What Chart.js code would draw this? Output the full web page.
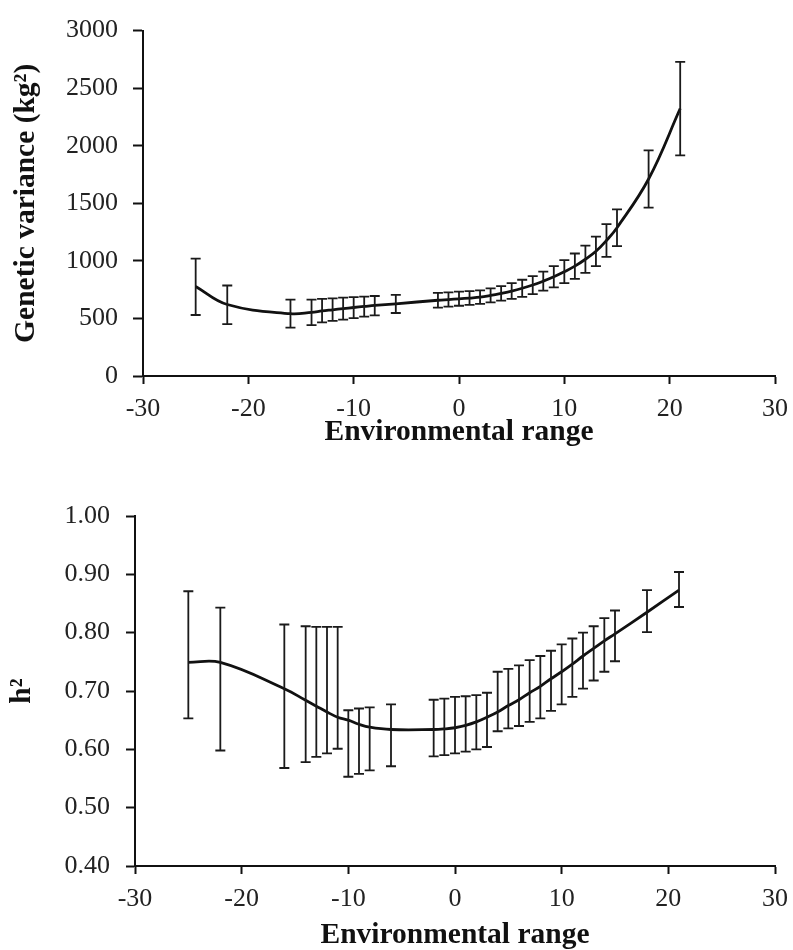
<!DOCTYPE html>
<html>
<head>
<meta charset="utf-8">
<script src="https://cdn.jsdelivr.net/npm/chart.js@4.4.0/dist/chart.umd.min.js"></script>
<style>
  body { margin:0; background:#fff; overflow:hidden; }
  .wrap { position:absolute; left:0; width:793px; }
  #w1 { top:0; height:452px; }
  #w2 { top:480px; height:473px; }
</style>
</head>
<body>
<div class="wrap" id="w1"><canvas id="c1"></canvas></div>
<div class="wrap" id="w2"><canvas id="c2"></canvas></div>
<script>
// environmental range points (same for both panels)
let envX = [-25, -22, -16, -14, -13, -12, -11, -10, -9, -8, -6, -2, -1, 0, 1, 2, 3, 4, 5, 6, 7, 8, 9, 10, 11, 12, 13, 14, 15, 18, 21];

// genetic variance (kg²)
let gvMean  = [778, 621, 541, 553, 565, 575, 585, 595, 604, 613, 627, 658, 664, 670, 677, 685, 700, 718, 738, 762, 790, 824, 862, 906, 954, 1014, 1083, 1177, 1288, 1711, 2323];
let gvLower = [530, 450, 421, 442, 465, 478, 490, 502, 515, 527, 547, 594, 602, 610, 618, 627, 639, 655, 670, 688, 712, 741, 769, 806, 844, 896, 955, 1035, 1128, 1462, 1917];
let gvUpper = [1020, 786, 664, 664, 670, 675, 680, 685, 690, 695, 705, 722, 727, 732, 738, 743, 761, 781, 806, 836, 868, 907, 955, 1006, 1064, 1132, 1211, 1319, 1447, 1960, 2729];

// heritability
let h2Mean  = [0.749, 0.749, 0.704, 0.684, 0.674, 0.664, 0.655, 0.650, 0.643, 0.638, 0.634, 0.634, 0.635, 0.637, 0.641, 0.647, 0.655, 0.664, 0.675, 0.685, 0.697, 0.708, 0.721, 0.733, 0.746, 0.760, 0.773, 0.786, 0.798, 0.835, 0.873];
let h2Lower = [0.653, 0.598, 0.568, 0.578, 0.587, 0.593, 0.601, 0.553, 0.558, 0.564, 0.571, 0.588, 0.590, 0.593, 0.596, 0.600, 0.604, 0.631, 0.636, 0.640, 0.647, 0.653, 0.666, 0.677, 0.690, 0.704, 0.718, 0.733, 0.751, 0.801, 0.844];
let h2Upper = [0.871, 0.843, 0.814, 0.811, 0.810, 0.810, 0.810, 0.667, 0.670, 0.672, 0.677, 0.685, 0.687, 0.690, 0.691, 0.693, 0.697, 0.733, 0.738, 0.744, 0.753, 0.760, 0.769, 0.780, 0.790, 0.800, 0.811, 0.825, 0.838, 0.873, 0.904];

let xTicks = [-30, -20, -10, 0, 10, 20, 30];

const serif = "'Liberation Serif', 'Times New Roman', serif";

// draws the vertical error bars from the dataset's lower/upper arrays
const errorBars = {
  id: 'errorBars',
  afterDatasetsDraw(chart) {
    const ctx = chart.ctx;
    const xs = chart.scales.x, ys = chart.scales.y;
    chart.data.datasets.forEach(function(ds) {
      if (!ds.lower) return;
      ctx.save();
      ctx.strokeStyle = '#1a1a1a';
      ctx.lineWidth = 1.8;
      ds.data.forEach(function(p, i) {
        let x = xs.getPixelForValue(p.x);
        let y1 = ys.getPixelForValue(ds.lower[i]);
        let y2 = ys.getPixelForValue(ds.upper[i]);
        ctx.beginPath();
        ctx.moveTo(x, y1); ctx.lineTo(x, y2);
        ctx.moveTo(x - 5, y1); ctx.lineTo(x + 5, y1);
        ctx.moveTo(x - 5, y2); ctx.lineTo(x + 5, y2);
        ctx.stroke();
      });
      ctx.restore();
    });
  }
};

function makeChart(id, mean, lower, upper, yOpts, yTitle, layout, yAxisW, xAxisH, yTickLen, yTitlePad, xTitlePad) {
  let pts = envX.map(function(x, i) { return {x: x, y: mean[i]}; });
  return new Chart(document.getElementById(id), {
    type: 'scatter',
    data: {
      datasets: [{
        data: pts,
        lower: lower,
        upper: upper,
        showLine: true,
        borderColor: '#111',
        borderWidth: 2.8,
        pointRadius: 0,
        tension: 0.4
      }]
    },
    options: {
      responsive: true,
      maintainAspectRatio: false,
      animation: false,
      layout: { padding: layout },
      plugins: { legend: { display: false }, tooltip: { enabled: false } },
      scales: {
        x: {
          type: 'linear', min: -30, max: 30,
          afterBuildTicks: function(s) { s.ticks = xTicks.map(function(v) { return {value: v}; }); },
          afterFit: function(s) { s.height = xAxisH; s.paddingRight = 0; },
          grid: { display: true, drawOnChartArea: false, drawTicks: true, tickLength: 8, tickWidth: 2, tickColor: '#111' },
          border: { display: true, color: '#111', width: 2 },
          ticks: { color: '#222', font: { family: serif, size: 26 }, padding: 10, maxRotation: 0 },
          title: { display: true, text: 'Environmental range', color: '#111', font: { family: serif, size: 29.5, weight: 'bold' }, padding: { top: 0, bottom: xTitlePad } }
        },
        y: Object.assign({
          afterFit: function(s) { s.width = yAxisW; },
          grid: { display: true, drawOnChartArea: false, drawTicks: true, tickLength: yTickLen, tickWidth: 2, tickColor: '#111' },
          border: { display: true, color: '#111', width: 2 },
          title: { display: true, text: yTitle, color: '#111', font: { family: serif, size: 29.5, weight: 'bold' }, padding: { top: yTitlePad, bottom: 0 } }
        }, yOpts)
      }
    },
    plugins: [errorBars]
  });
}

makeChart('c1', gvMean, gvLower, gvUpper, {
  min: 0, max: 3000,
  ticks: { stepSize: 500, color: '#222', font: { family: serif, size: 26 }, padding: 15,
           callback: function(v) { return String(v); } }
}, 'Genetic variance (kg²)', { top: 23, right: 18, left: 0, bottom: 0 }, 143, 76, 10, 9, 2);

makeChart('c2', h2Mean, h2Lower, h2Upper, {
  min: 0.4, max: 1.0,
  ticks: { stepSize: 0.1, color: '#222', font: { family: serif, size: 26 }, padding: 16,
           callback: function(v) { return v.toFixed(2); } }
}, 'h²', { top: 36, right: 18, left: 0, bottom: 0 }, 135, 87, 9, 5, 0);
</script>
</body>
</html>
